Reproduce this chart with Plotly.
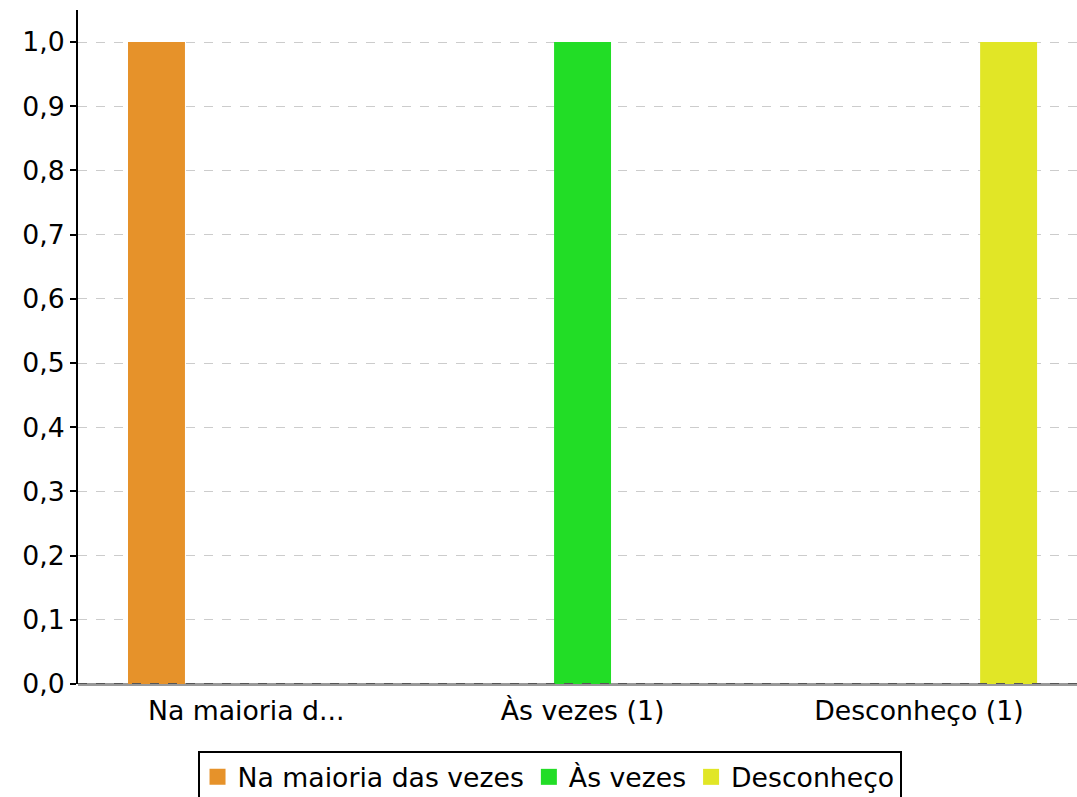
import plotly.graph_objects as go

categories = ["Na maioria d...", "Às vezes (1)", "Desconheço (1)"]
series_names = ["Na maioria das vezes", "Às vezes", "Desconheço"]
series_values = [
    [1, 0, 0],
    [0, 1, 0],
    [0, 0, 1],
]
colors = ["#E6922A", "#22DD26", "#E1E626"]
y_ticks = [0.0, 0.1, 0.2, 0.3, 0.4, 0.5, 0.6, 0.7, 0.8, 0.9, 1.0]

FONT = "DejaVu Sans"
FS = 26.7

fig = go.Figure()
for name, vals, col in zip(series_names, series_values, colors):
    fig.add_trace(go.Bar(x=categories, y=vals, name=name, showlegend=False,
                         legendgroup=name,
                         marker=dict(color=col, line=dict(width=0))))
# legend entries with larger square swatches
for name, col in zip(series_names, colors):
    fig.add_trace(go.Scatter(x=[None], y=[None], mode="markers", name=name,
                             legendgroup=name,
                             marker=dict(symbol="square", size=16, color=col,
                                         line=dict(width=0))))

fig.add_shape(type="line", xref="paper", yref="y", x0=0, x1=1, y0=0, y1=0,
              line=dict(color="#555555", width=2, dash="dash"), layer="above")

fig.update_layout(
    width=1077, height=797,
    margin=dict(l=78, r=0, t=10, b=113, autoexpand=False),
    paper_bgcolor="white", plot_bgcolor="white",
    separators=",.",
    barmode="group", bargap=0.2, bargroupgap=0.365,
    font=dict(family=FONT, size=FS, color="black"),
    showlegend=True,
    legend=dict(orientation="h", x=0.472, xanchor="center", y=-0.0994, yanchor="top",
                bordercolor="black", borderwidth=2, bgcolor="white",
                font=dict(family=FONT, size=FS, color="black"),
                itemwidth=30, tracegroupgap=0),
    xaxis=dict(type="category", range=[-0.5, 2.47], showline=False, showgrid=False,
               zeroline=False, ticks="", ticklabelstandoff=8,
               tickfont=dict(family=FONT, size=FS)),
    yaxis=dict(range=[0, 1.05], tickvals=y_ticks, tickformat=".1f",
               showline=True, linecolor="black", linewidth=2,
               ticks="outside", ticklen=6, tickwidth=2, tickcolor="black",
               showgrid=True, gridcolor="#CCCCCC", gridwidth=1, griddash="dash",
               zeroline=True, zerolinecolor="#999999", zerolinewidth=3,
               tickfont=dict(family=FONT, size=FS)),
)

fig.write_html("out.html", config={"displayModeBar": False},
               post_script="document.body.style.margin='0';document.body.style.overflow='hidden';")
